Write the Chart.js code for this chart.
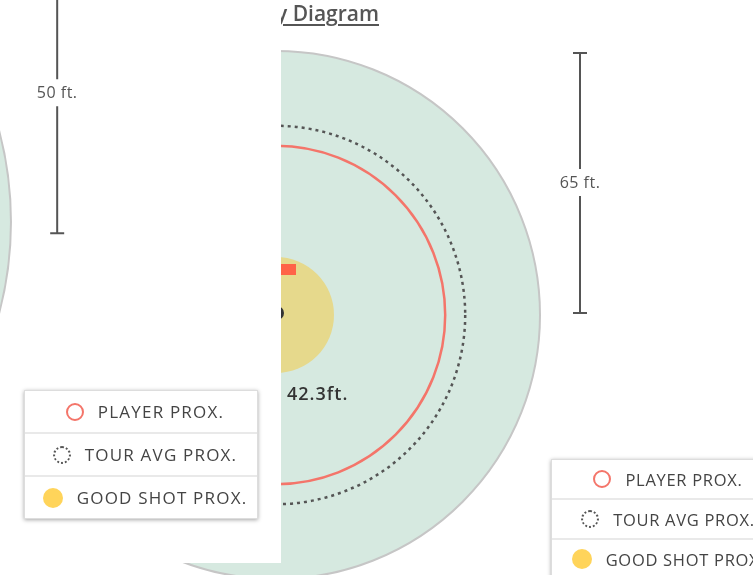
<!DOCTYPE html>
<html>
<head>
<meta charset="utf-8">
<script src="https://cdn.jsdelivr.net/npm/chart.js@4"></script>
<style>
  html, body { margin: 0; padding: 0; width: 753px; height: 575px; overflow: hidden; background: #fff; font-family: "Open Sans", sans-serif; }
  #rightChart { position: absolute; left: 0; top: 0; }
  #title { position: absolute; top: -1px; right: 374px; font-size: 21px; font-weight: 600; color: #555; text-decoration: underline; text-underline-offset: 3px; white-space: nowrap; }
  #panel { position: absolute; left: 0; top: 0; width: 281px; height: 563px; background: #fff; overflow: hidden; }
  #leftChart { position: absolute; left: 0; top: 0; }
  .legend { position: absolute; width: 232px; background: #fff; border: 1px solid #ddd; box-shadow: 0 1px 4px rgba(0,0,0,0.35); }
  .legend .row { display: flex; align-items: center; justify-content: center; border-top: 2px solid #e9e9e9; font-size: 16.5px; color: #444; letter-spacing: 1.2px; white-space: nowrap; }
  .legend .row:first-child { border-top: none; }
  .legend .ico { display: inline-block; box-sizing: border-box; margin-right: 14px; border-radius: 50%; flex: none; }
  #leftLegend { left: 24px; top: 390px; }
  #leftLegend .row { height: 41px; padding-left: 8px; font-size: 17px; }
  #rightLegend { left: 551px; top: 459px; }
  #rightLegend .row { height: 38px; letter-spacing: 0.7px; }
</style>
</head>
<body>
<canvas id="rightChart" width="753" height="575"></canvas>
<div id="title">Proximity Diagram</div>
<div id="panel">
  <canvas id="leftChart" width="281" height="563"></canvas>
  <div class="legend" id="leftLegend"></div>
</div>
<div class="legend" id="rightLegend"></div>

<script>
// proximity values, feet
var proxLabels = ["PLAYER PROX.", "TOUR AVG PROX.", "GOOD SHOT PROX."];
var proxFeet = [42.3, 47.3, 14.5];
var greenFeet = 66;
var scaleFeet = 65;
var pinSpot = { x: 0.25, y: 0.5 };
var shotSpot = { x: 2.5, y: 11.4 };

// the diagram behind the white panel (only its edge shows)
var leftGreenFeet = 63.75;
var leftScaleFeet = 50;

var proxColors = ["#f4756a", "#555555", "#ffd45a"];

function feetToPx(chart, ft) {
  var s = chart.scales.x;
  return Math.abs(s.getPixelForValue(ft) - s.getPixelForValue(0));
}

// points don't take borderDash, so set it around the dataset draw
var dashPlugin = {
  id: "dash",
  beforeDatasetDraw: function(chart, args) {
    var ds = chart.data.datasets[args.index];
    if (ds.dash) { chart.ctx.save(); chart.ctx.setLineDash(ds.dash); }
  },
  afterDatasetDraw: function(chart, args) {
    var ds = chart.data.datasets[args.index];
    if (ds.dash) chart.ctx.restore();
  }
};

var extrasPlugin = {
  id: "extras",
  afterDatasetsDraw: function(chart, args, opts) {
    var ctx = chart.ctx, xs = chart.scales.x, ys = chart.scales.y;
    ctx.save();
    if (opts.bar) {
      var bx = xs.getPixelForValue(opts.bar.x);
      var top = ys.getPixelForValue(opts.bar.y0 + opts.bar.feet);
      var bot = ys.getPixelForValue(opts.bar.y0);
      var mid = (top + bot) / 2;
      ctx.strokeStyle = "#555";
      ctx.lineWidth = 2;
      ctx.beginPath();
      ctx.moveTo(bx, top); ctx.lineTo(bx, mid - 14);
      ctx.moveTo(bx, mid + 13); ctx.lineTo(bx, bot);
      ctx.moveTo(bx - 7, top); ctx.lineTo(bx + 7, top);
      ctx.moveTo(bx - 7, bot); ctx.lineTo(bx + 7, bot);
      ctx.stroke();
      ctx.fillStyle = "#555";
      ctx.font = "16px 'Open Sans'";
      ctx.letterSpacing = "0.5px";
      ctx.textAlign = "center";
      ctx.textBaseline = "middle";
      ctx.fillText(opts.bar.feet + " ft.", bx, mid);
    }
    if (opts.label) {
      ctx.fillStyle = "#333";
      ctx.font = "600 18px 'Open Sans'";
      ctx.letterSpacing = "1px";
      ctx.textAlign = "left";
      ctx.textBaseline = "middle";
      ctx.fillText(opts.label.text, xs.getPixelForValue(opts.label.x), ys.getPixelForValue(opts.label.y));
    }
    ctx.restore();
  }
};

function ring(ft, bg, border, width, dash) {
  return {
    data: [{ x: 0, y: 0 }],
    pointRadius: function(c) { return feetToPx(c.chart, ft); },
    pointBackgroundColor: bg,
    pointBorderColor: border,
    pointBorderWidth: width,
    dash: dash,
    clip: false
  };
}

function baseOptions(xr, yr, extras) {
  return {
    responsive: false,
    animation: false,
    events: [],
    layout: { padding: 0, autoPadding: false },
    scales: {
      x: { type: "linear", display: false, min: xr[0], max: xr[1] },
      y: { type: "linear", display: false, min: yr[0], max: yr[1] }
    },
    plugins: { legend: { display: false }, tooltip: { enabled: false }, extras: extras }
  };
}

// small flag shape for the shot marker
var flag = document.createElement("canvas");
flag.width = 20; flag.height = 11;
var fctx = flag.getContext("2d");
fctx.fillStyle = "#ff6347";
fctx.fillRect(0, 0, 20, 11);

// right diagram, 4 px per foot, hole at (276, 315)
new Chart(document.getElementById("rightChart"), {
  type: "scatter",
  data: {
    datasets: [
      { data: [pinSpot], pointRadius: 7, pointBackgroundColor: "#333", pointBorderWidth: 0, clip: false },
      { data: [shotSpot], pointStyle: flag, pointRadius: 6, clip: false },
      ring(proxFeet[0], "rgba(0,0,0,0)", proxColors[0], 2.5),
      ring(proxFeet[1], "rgba(0,0,0,0)", proxColors[1], 2.5, [3, 4]),
      ring(proxFeet[2], "#e6d98c", "rgba(0,0,0,0)", 0),
      ring(greenFeet, "#d6e9e0", "#c6c6c6", 2)
    ]
  },
  options: baseOptions([-69, 119.25], [-65, 78.75], {
    bar: { x: 76, y0: 0.5, feet: scaleFeet },
    label: { text: proxFeet[0] + "ft.", x: 2.75, y: -20 }
  }),
  plugins: [dashPlugin, extrasPlugin]
});

// left diagram, mostly off screen
new Chart(document.getElementById("leftChart"), {
  type: "scatter",
  data: { datasets: [ring(leftGreenFeet, "#d6e9e0", "#c6c6c6", 2)] },
  options: baseOptions([61.79, 111.96], [-60.89, 39.64], {
    bar: { x: 72, y0: -2, feet: leftScaleFeet }
  }),
  plugins: [extrasPlugin]
});

function buildLegend(el) {
  var icons = [
    "width:18px;height:18px;border:2px solid " + proxColors[0],
    "width:18px;height:18px;border:2px dotted " + proxColors[1],
    "width:20px;height:20px;background:" + proxColors[2]
  ];
  var html = "";
  proxLabels.forEach(function(lbl, i) {
    html += '<div class="row"><span class="ico" style="' + icons[i] + '"></span>' + lbl + "</div>";
  });
  el.innerHTML = html;
}
buildLegend(document.getElementById("leftLegend"));
buildLegend(document.getElementById("rightLegend"));
</script>
</body>
</html>
